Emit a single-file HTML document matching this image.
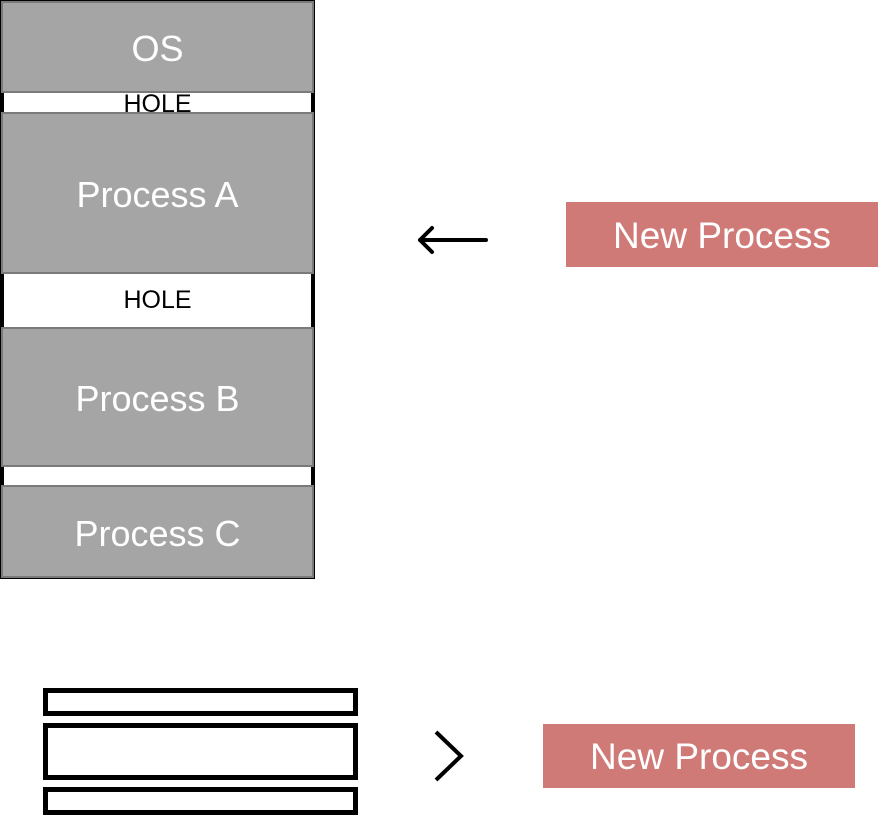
<!DOCTYPE html>
<html><head><meta charset="utf-8"><style>
html,body{margin:0;padding:0;background:#fff;}
body{width:878px;height:815px;position:relative;overflow:hidden;font-family:"Liberation Sans","DejaVu Sans",sans-serif;}
.a{position:absolute;box-sizing:border-box;}
.g{background:#a5a5a5;border:2px solid #7a7a7a;color:#fff;display:flex;align-items:center;justify-content:center;font-size:36px;padding-top:4px;}
.h{background:#fff;color:#000;font-size:25px;display:flex;align-items:center;justify-content:center;overflow:hidden;border-left:4px solid #000;border-right:4px solid #000;}
.n{background:#d07a78;color:#fff;font-size:37px;display:flex;align-items:center;justify-content:center;padding-top:2px;}
.r{border:5px solid #000;background:#fff;}
</style></head><body>
<div class="a" style="left:0;top:0;width:315px;height:579px;background:#000;"></div>
<div class="a h" style="left:0;top:92px;width:315px;height:21px;line-height:21px;"><span style="position:relative;top:2px">HOLE</span></div>
<div class="a h" style="left:0;top:273px;width:315px;height:55px;">HOLE</div>
<div class="a h" style="left:0;top:466px;width:315px;height:20px;"></div>
<div class="a g" style="left:1px;top:1px;width:313px;height:92px;">OS</div>
<div class="a g" style="left:1px;top:112px;width:313px;height:162px;">Process A</div>
<div class="a g" style="left:1px;top:327px;width:313px;height:140px;">Process B</div>
<div class="a g" style="left:1px;top:485px;width:313px;height:93px;">Process C</div>

<svg class="a" style="left:0;top:0" width="878" height="815">
<path d="M486 240 L420 240 M432 228 L420 240 L432 252" fill="none" stroke="#000" stroke-width="4" stroke-linecap="round" stroke-linejoin="round"/>
<path d="M436 732 L461 756 L436 780" fill="none" stroke="#000" stroke-width="4"/>
</svg>

<div class="a n" style="left:566px;top:202px;width:312px;height:65px;">New Process</div>
<div class="a n" style="left:543px;top:724px;width:312px;height:64px;">New Process</div>

<div class="a r" style="left:43px;top:688px;width:315px;height:28px;"></div>
<div class="a r" style="left:43px;top:723px;width:315px;height:57px;"></div>
<div class="a r" style="left:43px;top:787px;width:315px;height:28px;"></div>
</body></html>
